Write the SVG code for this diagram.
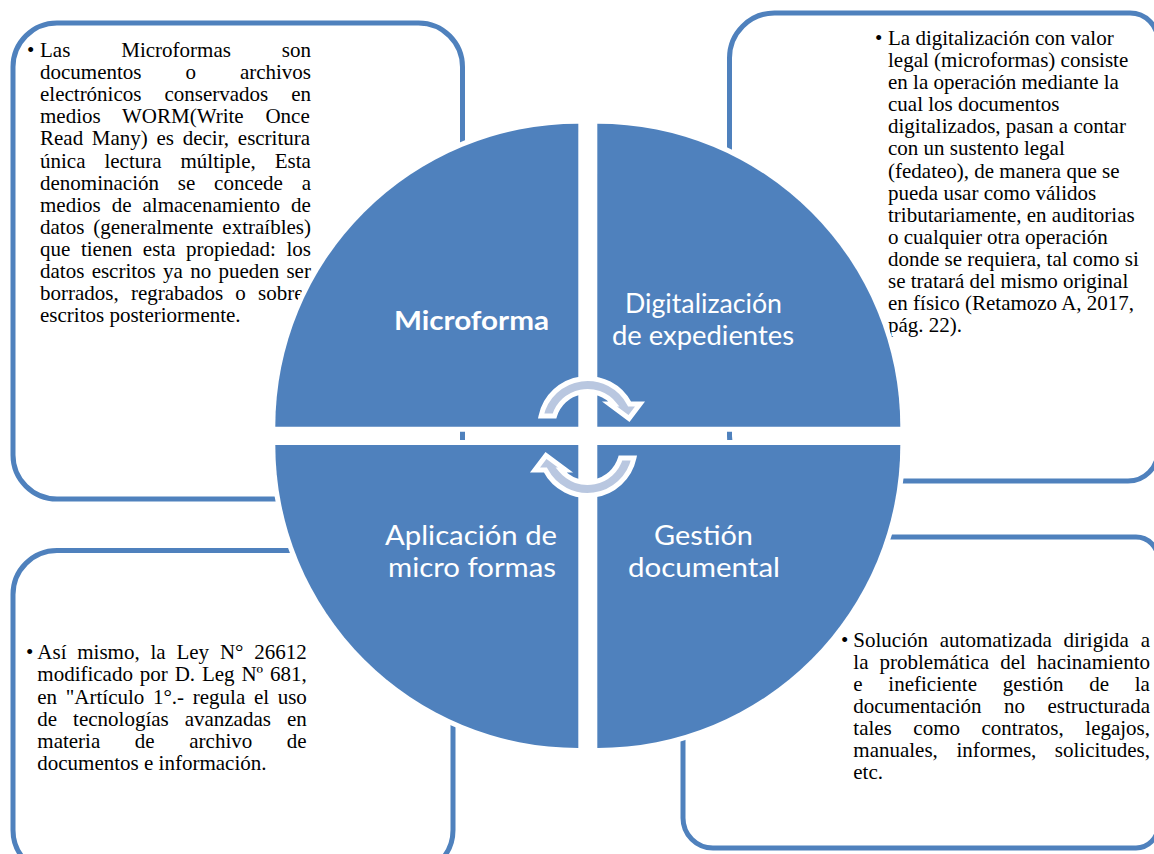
<svg xmlns="http://www.w3.org/2000/svg" width="1154" height="854" viewBox="0 0 1154 854">
<style>
.box{fill:#fff;stroke:#4F81BD;stroke-width:5}
.body{font-family:"Liberation Serif","Times New Roman",serif;font-size:21px;fill:#000}
.quad{fill:#4F81BD;stroke:#fff;stroke-width:10;paint-order:stroke}
.lbl{font-family:Lato,"Open Sans",sans-serif;font-size:26px;fill:#fff;text-anchor:middle}
.arrow{fill:#B9C7E0;stroke:#fff;stroke-width:5;stroke-linejoin:miter}
</style>
<rect width="1154" height="854" fill="#fff"/>

<g id="box-microforma">
<rect class="box" x="13" y="23" width="449.5" height="476" rx="44"/>
<text class="body" x="27" y="57">•</text>
<text class="body" x="40" y="57" style="word-spacing:45.7px">Las Microformas son</text>
<text class="body" x="40" y="79" style="word-spacing:38.7px">documentos o archivos</text>
<text class="body" x="40" y="101" style="word-spacing:17.7px">electrónicos conservados en</text>
<text class="body" x="40" y="123" style="word-spacing:16.5px">medios WORM(Write Once</text>
<text class="body" x="40" y="145" style="word-spacing:3.45px">Read Many) es decir, escritura</text>
<text class="body" x="40" y="167.5" style="word-spacing:13.7px">única lectura múltiple, Esta</text>
<text class="body" x="40" y="189.5" style="word-spacing:13.55px">denominación se concede a</text>
<text class="body" x="40" y="211.5" style="word-spacing:5.75px">medios de almacenamiento de</text>
<text class="body" x="40" y="233.5" style="word-spacing:3.7px">datos (generalmente extraíbles)</text>
<text class="body" x="40" y="255.5" style="word-spacing:5.35px">que tienen esta propiedad: los</text>
<text class="body" x="40" y="277.5" style="word-spacing:2.05px">datos escritos ya no pueden ser</text>
<text class="body" x="40" y="299.5" style="word-spacing:7px">borrados, regrabados o sobre</text>
<text class="body" x="40" y="321.5">escritos posteriormente.</text>
</g>

<g id="box-digitalizacion">
<path class="box" d="M774.5,13 H1130 A28,28 0 0 1 1158,41 V451 A30,30 0 0 1 1128,481 H774.5 A45,45 0 0 1 729.5,436 V58 A45,45 0 0 1 774.5,13 Z"/>
<text class="body" x="875" y="45">•</text>
<text class="body" x="888" y="45">La digitalización con valor</text>
<text class="body" x="888" y="67">legal (microformas) consiste</text>
<text class="body" x="888" y="89">en la operación mediante la</text>
<text class="body" x="888" y="111">cual los documentos</text>
<text class="body" x="888" y="133">digitalizados, pasan a contar</text>
<text class="body" x="888" y="155">con un sustento legal</text>
<text class="body" x="888" y="177.5">(fedateo), de manera que se</text>
<text class="body" x="888" y="199.5">pueda usar como válidos</text>
<text class="body" x="888" y="221.5">tributariamente, en auditorias</text>
<text class="body" x="888" y="243.5">o cualquier otra operación</text>
<text class="body" x="888" y="265.5">donde se requiera, tal como si</text>
<text class="body" x="888" y="287.5">se tratará del mismo original</text>
<text class="body" x="888" y="309.5">en físico (Retamozo A, 2017,</text>
<text class="body" x="888" y="331.5">pág. 22).</text>
</g>

<g id="box-aplicacion">
<rect class="box" x="13" y="550.5" width="440" height="323.5" rx="44"/>
<text class="body" x="26" y="659">•</text>
<text class="body" x="37.3" y="659" style="word-spacing:5.55px">Así mismo, la Ley N° 26612</text>
<text class="body" x="37.3" y="681" style="word-spacing:1.6px">modificado por D. Leg Nº 681,</text>
<text class="body" x="37.3" y="703.5" style="word-spacing:3.4px">en "Artículo 1°.- regula el uso</text>
<text class="body" x="37.3" y="725.5" style="word-spacing:10.7px">de tecnologías avanzadas en</text>
<text class="body" x="37.3" y="747.5" style="word-spacing:29.35px">materia de archivo de</text>
<text class="body" x="37.3" y="770">documentos e información.</text>
</g>

<g id="box-gestion">
<path class="box" d="M728,537 H1136 A22,22 0 0 1 1158,559 V826 A22,22 0 0 1 1136,848 H713 A30,30 0 0 1 683,818 V582 A45,45 0 0 1 728,537 Z"/>
<text class="body" x="841" y="646.5">•</text>
<text class="body" x="853.3" y="646.5" style="word-spacing:6.55px">Solución automatizada dirigida a</text>
<text class="body" x="853.3" y="668.5" style="word-spacing:5.8px">la problemática del hacinamiento</text>
<text class="body" x="853.3" y="690.5" style="word-spacing:20.5px">e ineficiente gestión de la</text>
<text class="body" x="853.3" y="712.5" style="word-spacing:17.15px">documentación no estructurada</text>
<text class="body" x="853.3" y="734.5" style="word-spacing:16.3px">tales como contratos, legajos,</text>
<text class="body" x="853.3" y="756.5" style="word-spacing:13.3px">manuales, informes, solicitudes,</text>
<text class="body" x="853.3" y="778.5">etc.</text>
</g>

<g id="quad-microforma">
<path class="quad" d="M578.3,426.7 L275.3,426.7 A303,303 0 0 1 578.3,123.7 Z"/>
<text class="lbl" x="471.5" y="330" font-weight="bold" textLength="155" lengthAdjust="spacingAndGlyphs">Microforma</text>
</g>
<g id="quad-digitalizacion">
<path class="quad" d="M597.3,426.7 L597.3,123.7 A303,303 0 0 1 900.3,426.7 Z"/>
<text class="lbl" x="703.5" y="313" textLength="157" lengthAdjust="spacingAndGlyphs">Digitalización</text>
<text class="lbl" x="703" y="345" textLength="182" lengthAdjust="spacingAndGlyphs">de expedientes</text>
</g>
<g id="quad-gestion">
<path class="quad" d="M597.3,445 L900.3,445 A303,303 0 0 1 597.3,748 Z"/>
<text class="lbl" x="703.5" y="545" textLength="99" lengthAdjust="spacingAndGlyphs">Gestión</text>
<text class="lbl" x="704" y="577" textLength="152" lengthAdjust="spacingAndGlyphs">documental</text>
</g>
<g id="quad-aplicacion">
<path class="quad" d="M578.3,445 L578.3,748 A303,303 0 0 1 275.3,445 Z"/>
<text class="lbl" x="471" y="545" textLength="172" lengthAdjust="spacingAndGlyphs">Aplicación de</text>
<text class="lbl" x="472" y="577" textLength="168" lengthAdjust="spacingAndGlyphs">micro formas</text>
</g>

<g id="connectors">
<path id="arrow-top" class="arrow" d="M541.07,416 A47.5,47.5 0 0 1 629.6,404 L640,404 L629,418.5 L609.5,404 L614.1,404 A34.5,34.5 0 0 0 554.48,416 Z"/>
<path id="arrow-bottom" class="arrow" transform="rotate(180 587.5 437)" d="M541.07,416 A47.5,47.5 0 0 1 629.6,404 L640,404 L629,418.5 L609.5,404 L614.1,404 A34.5,34.5 0 0 0 554.48,416 Z"/>
</g>
</svg>
